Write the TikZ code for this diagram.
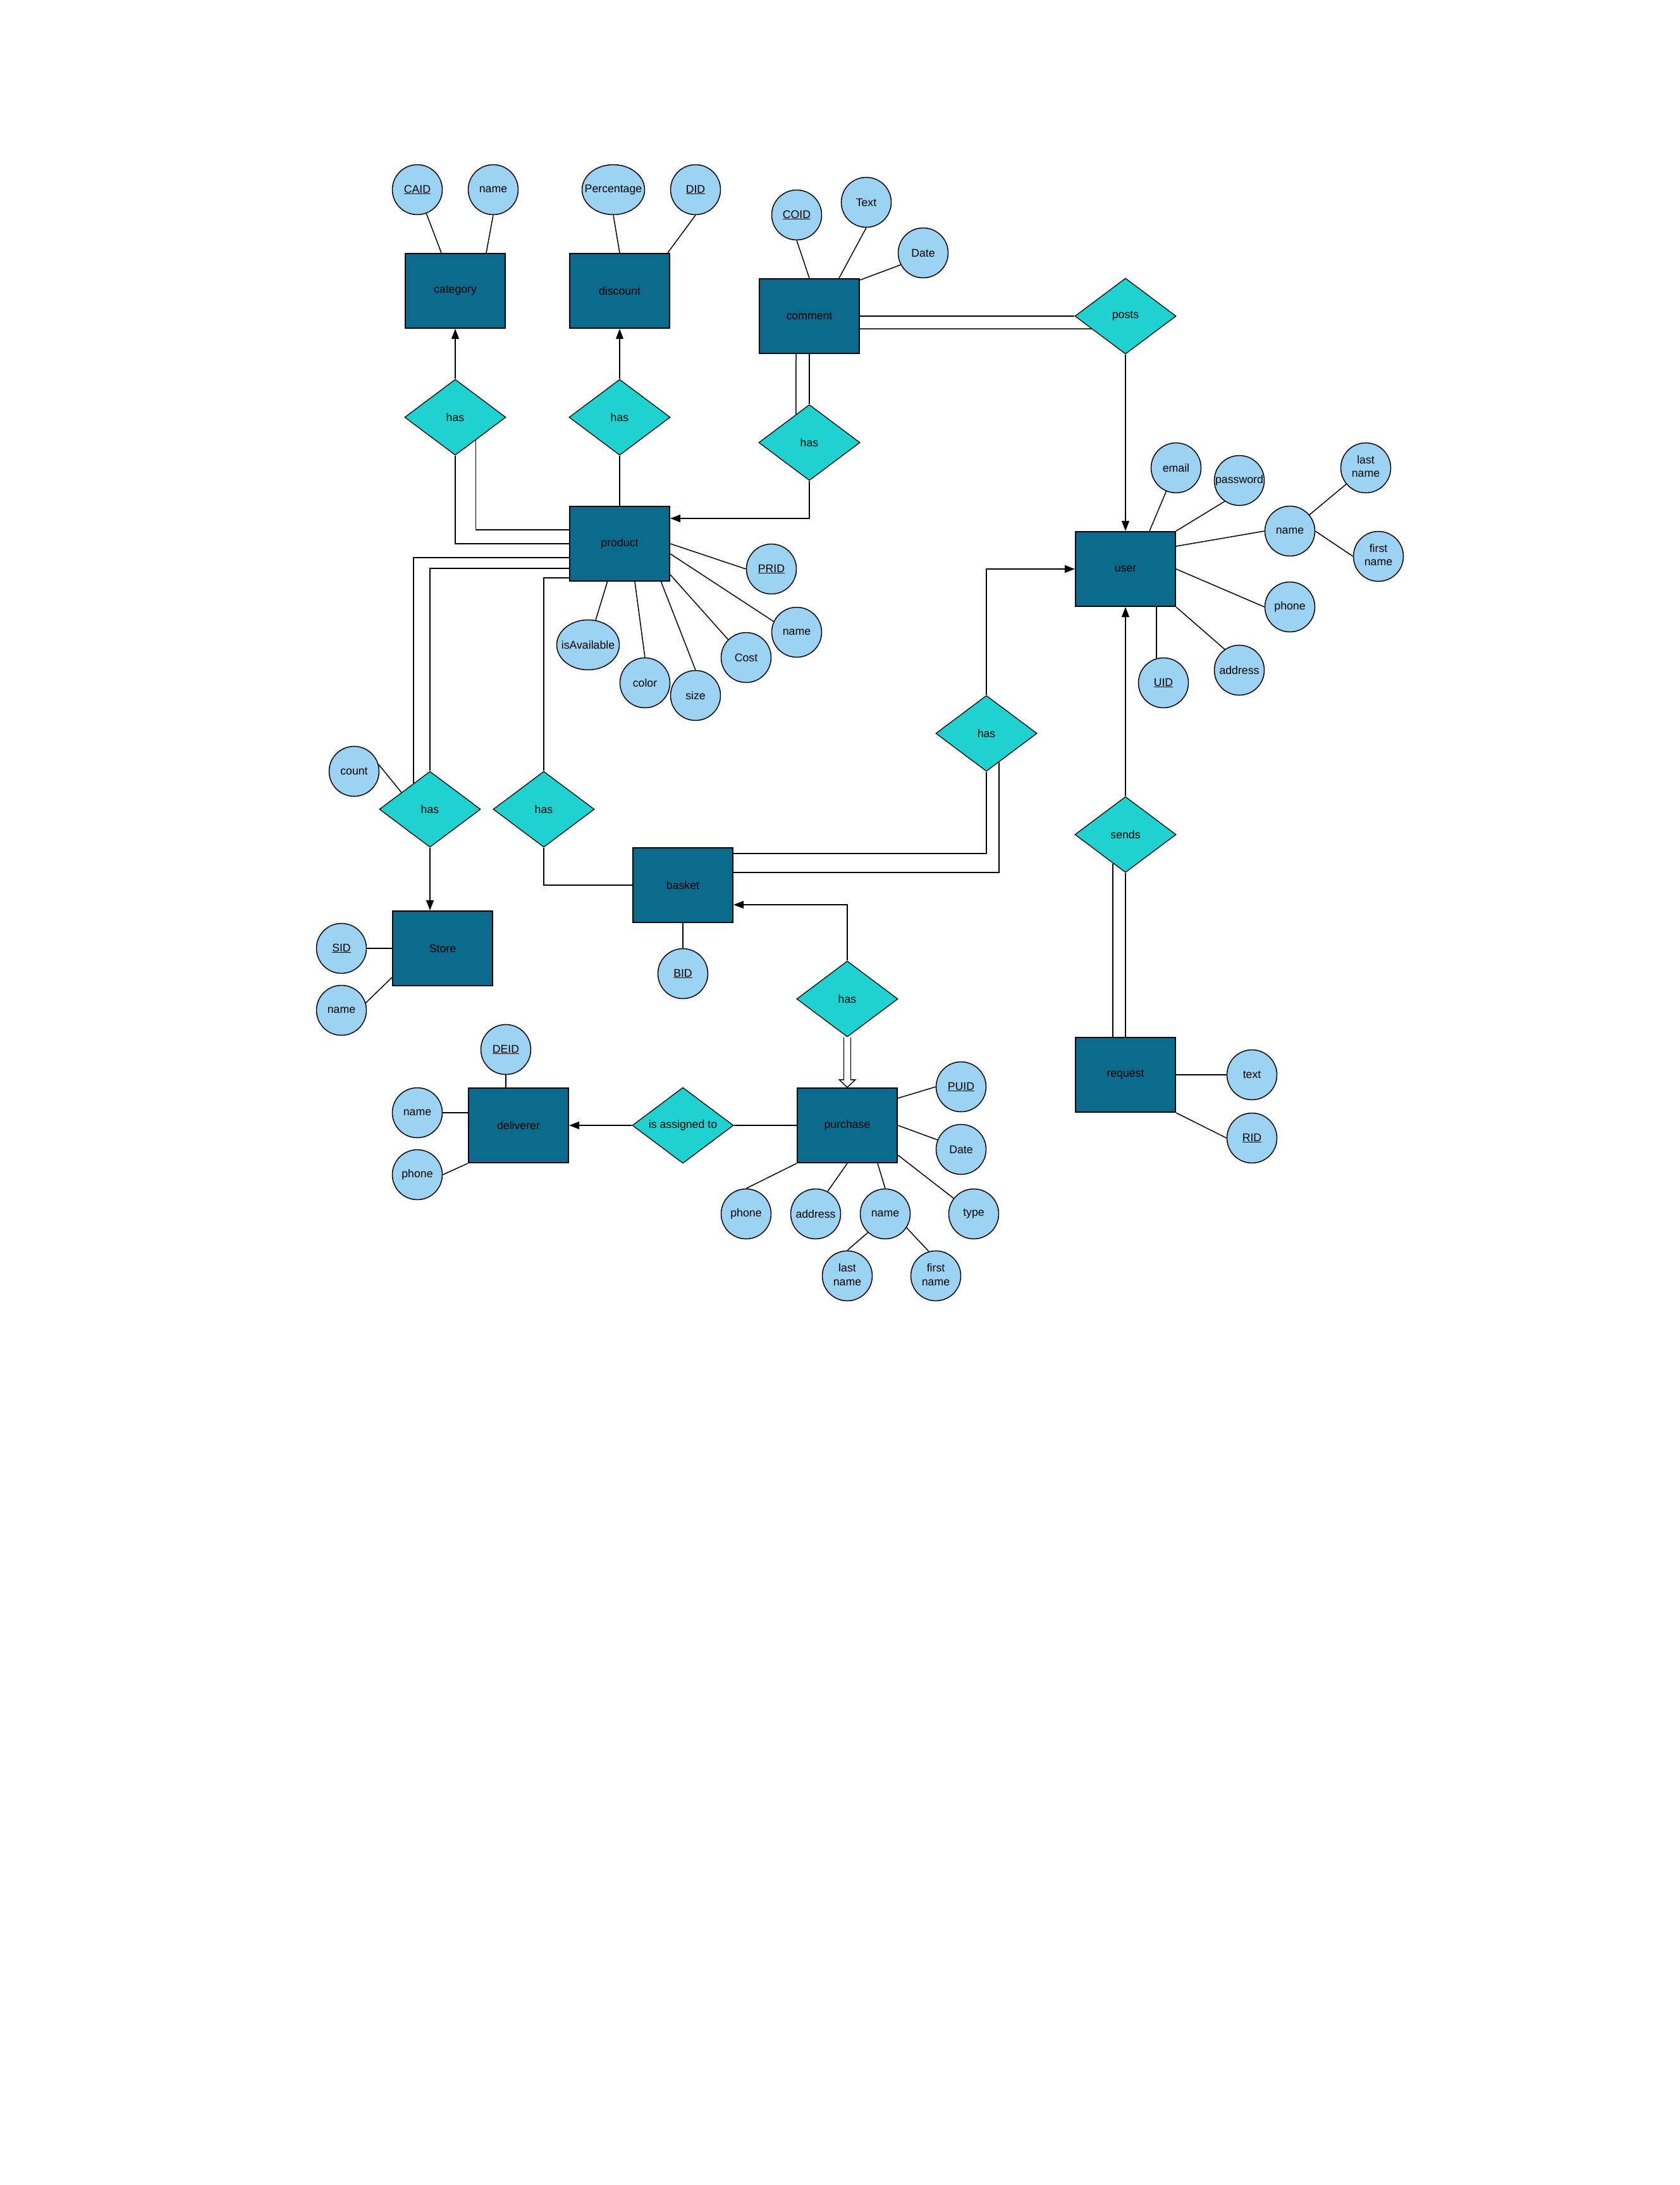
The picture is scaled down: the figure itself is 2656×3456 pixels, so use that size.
\documentclass[tikz,border=0pt]{standalone}
\usepackage{fontspec}
\setmainfont{Liberation Sans}
\usetikzlibrary{shapes.geometric,arrows.meta,calc}
\definecolor{entfill}{HTML}{0C6B8C}
\definecolor{relfill}{HTML}{1FD1CF}
\definecolor{attrfill}{HTML}{9CD3F2}
\newcommand{\attx}[1]{\makebox[0pt]{#1}}
\newcommand{\twol}[2]{\makebox[0pt]{\begin{tabular}{@{}c@{}}#1\\#2\end{tabular}}}
\begin{document}
\begin{tikzpicture}[x=1pt,y=-1pt,
  every node/.style={font=\fontsize{17.7}{21.4}\selectfont, text=black},
  ent/.style={rectangle, draw=black, line width=2.2pt, fill=entfill, minimum width=158pt, minimum height=118pt, inner sep=0pt},
  rel/.style={diamond, draw=black, line width=1.3pt, fill=relfill, minimum width=160pt, minimum height=120pt, inner sep=0pt, shape aspect=1.333},
  attr/.style={ellipse, draw=black, line width=1.5pt, fill=attrfill, minimum width=79pt, minimum height=79pt, inner sep=0pt},
  wideattr/.style={attr, minimum width=99pt},
  conn/.style={draw=black, line width=1.5pt},
  arr/.style={conn, -{Triangle[length=16pt,width=12pt]}},
  hollow/.style={draw=black, line width=1.4pt, fill=white}
]
\fill[white] (0,0) rectangle (2656,3456);
\useasboundingbox (0,0) rectangle (2656,3456);

% entities
\node[ent] (cat) at (720,460) {category};
\node[ent] (disc) at (980,460) {discount};
\node[ent] (comm) at (1280,500) {comment};
\node[ent] (prod) at (980,860) {product};
\node[ent] (user) at (1780,900) {user};
\node[ent] (bask) at (1080,1400) {basket};
\node[ent] (store) at (700,1500) {Store};
\node[ent] (deliv) at (820,1780) {deliverer};
\node[ent] (purch) at (1340,1780) {purchase};
\node[ent] (req) at (1780,1700) {request};

% relationships
\node[rel] (r1) at (720,660) {has};
\node[rel] (r2) at (980,660) {has};
\node[rel] (r3) at (1280,700) {has};
\node[rel] (posts) at (1780,500) {posts};
\node[rel] (r4) at (680,1280) {has};
\node[rel] (r5) at (860,1280) {has};
\node[rel] (r6) at (1560,1160) {has};
\node[rel] (r7) at (1340,1580) {has};
\node[rel] (sends) at (1780,1320) {sends};
\node[rel] (assign) at (1080,1780) {is assigned to};

% attributes
\node[attr] (caid) at (660,300) {\attx{\underline{CAID}}};
\node[attr] (catname) at (780,300) {\attx{name}};
\node[wideattr] (perc) at (970,300) {\attx{Percentage}};
\node[attr] (did) at (1100,300) {\attx{\underline{DID}}};
\node[attr] (coid) at (1260,340) {\attx{\underline{COID}}};
\node[attr] (ctext) at (1370,320) {\attx{Text}};
\node[attr] (cdate) at (1460,400) {\attx{Date}};
\node[attr] (prid) at (1220,900) {\attx{\underline{PRID}}};
\node[attr] (pname) at (1260,1000) {\attx{name}};
\node[attr] (cost) at (1180,1040) {\attx{Cost}};
\node[attr] (size) at (1100,1100) {\attx{size}};
\node[attr] (color) at (1020,1080) {\attx{color}};
\node[wideattr] (isav) at (930,1020) {\attx{isAvailable}};
\node[attr] (count) at (560,1220) {\attx{count}};
\node[attr] (sid) at (540,1500) {\attx{\underline{SID}}};
\node[attr] (sname) at (540,1598) {\attx{name}};
\node[attr] (bid) at (1080,1540) {\attx{\underline{BID}}};
\node[attr] (deid) at (800,1660) {\attx{\underline{DEID}}};
\node[attr] (dname) at (660,1760) {\attx{name}};
\node[attr] (dphone) at (660,1858) {\attx{phone}};
\node[attr] (puid) at (1520,1719) {\attx{\underline{PUID}}};
\node[attr] (pdate) at (1520,1818) {\attx{Date}};
\node[attr] (ptype) at (1540,1920) {\attx{type}};
\node[attr] (pname2) at (1400,1920) {\attx{name}};
\node[attr] (paddr) at (1290,1920) {\attx{address}};
\node[attr] (pphone) at (1180,1920) {\attx{phone}};
\node[attr] (plast) at (1340,2018) {\twol{last}{name}};
\node[attr] (pfirst) at (1480,2018) {\twol{first}{name}};
\node[attr] (email) at (1860,740) {\attx{email}};
\node[attr] (passw) at (1960,760) {\attx{password}};
\node[attr] (uname) at (2040,840) {\attx{name}};
\node[attr] (ulast) at (2160,740) {\twol{last}{name}};
\node[attr] (ufirst) at (2180,880) {\twol{first}{name}};
\node[attr] (uphone) at (2040,960) {\attx{phone}};
\node[attr] (uaddr) at (1960,1060) {\attx{address}};
\node[attr] (uid) at (1840,1080) {\attx{\underline{UID}}};
\node[attr] (rtext) at (1980,1700) {\attx{text}};
\node[attr] (rid) at (1980,1800) {\attx{\underline{RID}}};

% attribute connectors
\draw[conn] (caid) -- ($(cat.north)+(-22,0)$);
\draw[conn] (catname.south) -- ($(cat.north)+(49,0)$);
\draw[conn] (perc.south) -- (disc.north);
\draw[conn] (did.south) -- ($(disc.north)+(76,0)$);
\draw[conn] (coid.south) -- (comm.north);
\draw[conn] (ctext.south) -- ($(comm.north)+(47,0)$);
\draw[conn] (cdate.-152) -- ($(comm.north east)+(0,3)$);
\draw[conn] (prod.east) -- (prid.west);
\draw[conn] ($(prod.east)+(0,16)$) -- (pname.155);
\draw[conn] ($(prod.east)+(0,49)$) -- (cost.135);
\draw[conn] ($(prod.south)+(65.5,0)$) -- (size.north);
\draw[conn] ($(prod.south)+(24,0)$) -- (color.north);
\draw[conn] ($(prod.south)+(-19.4,0)$) -- (isav);
\draw[conn] (sid.east) -- (store.west);
\draw[conn] (sname.17) -- ($(store.west)+(0,46)$);
\draw[conn] (bask.south) -- (bid.north);
\draw[conn] (deid.south) -- (deid.south |- deliv.north);
\draw[conn] (dname.east) -- (dname.east -| deliv.west);
\draw[conn] (dphone.east) -- (deliv.south west);
\draw[conn] ($(purch.east)+(0,-43)$) -- (puid.west);
\draw[conn] (purch.east) -- (pdate.158);
\draw[conn] ($(purch.east)+(0,47)$) -- (ptype);
\draw[conn] ($(purch.south)+(48,0)$) -- (pname2.north);
\draw[conn] (purch.south) -- (paddr.62);
\draw[conn] (purch.south west) -- (pphone.north);
\draw[conn] (pname2.-133) -- (plast.north);
\draw[conn] (pname2.-33) -- (pfirst.106);
\draw[conn] (email) -- ($(user.north)+(38,0)$);
\draw[conn] (passw.-125) -- (user.north east);
\draw[conn] (uname.west) -- ($(user.east)+(0,-36)$);
\draw[conn] (uname) -- (ulast);
\draw[conn] (uname.east) -- (ufirst.west);
\draw[conn] (user.east) -- (uphone.west);
\draw[conn] (uaddr.125) -- (user.south east);
\draw[conn] (uid.106.7) -- (uid.106.7 |- user.south);
\draw[conn] (req.east) -- (rtext.west);
\draw[conn] (req.south east) -- (rid.west);

% relationship connectors
\draw[arr] (r1.north) -- (cat.south);
\draw[conn] (r1.south) |- (prod.west);
\draw[conn] ($(r1.east)!0.6!(r1.south)$) |- ($(prod.west)+(0,-22)$);
\draw[arr] (r2.north) -- (disc.south);
\draw[conn] (r2.south) -- (prod.north);
\draw[conn] (comm.south) -- (r3.north);
\draw[conn] ($(comm.south)+(-21,0)$) -- ($(r3.west)!0.7375!(r3.north)$);
\draw[arr] (r3.south) |- ($(prod.east)+(0,-40)$);
\draw[conn] (comm.east) -- (posts.west);
\draw[conn] ($(comm.east)+(0,20)$) -- ($(posts.west)!0.3333!(posts.south)$);
\draw[arr] (posts.south) -- (user.north);
\draw[conn] ($(prod.west)+(0,22)$) -| ($(r4.west)!0.68!(r4.north)$);
\draw[conn] ($(prod.west)+(0,39)$) -| (r4.north);
\draw[arr] (r4.south) -- ($(store.north)+(-20,0)$);
\draw[conn] (count.16) -- ($(r4.west)!0.44!(r4.north)$);
\draw[conn] ($(prod.west)+(0,54)$) -| (r5.north);
\draw[conn] (r5.south) |- (bask.west);
\draw[arr] (r6.north) |- (user.west);
\draw[conn] ($(bask.east)+(0,-50)$) -| (r6.south);
\draw[conn] ($(bask.east)+(0,-20)$) -| ($(r6.east)!0.75!(r6.south)$);
\draw[arr] (r7.north) |- ($(bask.east)+(0,31)$);
\draw[hollow] ($(r7.south)+(-5.5,0)$) -- ($(purch.north)+(-5.5,-12)$) -- ($(purch.north)+(-12.5,-12)$) -- (purch.north) -- ($(purch.north)+(12.5,-12)$) -- ($(purch.north)+(5.5,-12)$) -- ($(r7.south)+(5.5,0)$);
\draw[arr] (sends.north) -- (user.south);
\draw[conn] (sends.south) -- (req.north);
\coordinate (sl) at ($(sends.west)!0.75!(sends.south)$);
\draw[conn] (sl) -- (sl |- req.north);
\draw[arr] (assign.west) -- (deliv.east);
\draw[conn] (assign.east) -- (purch.west);
\end{tikzpicture}
\end{document}
